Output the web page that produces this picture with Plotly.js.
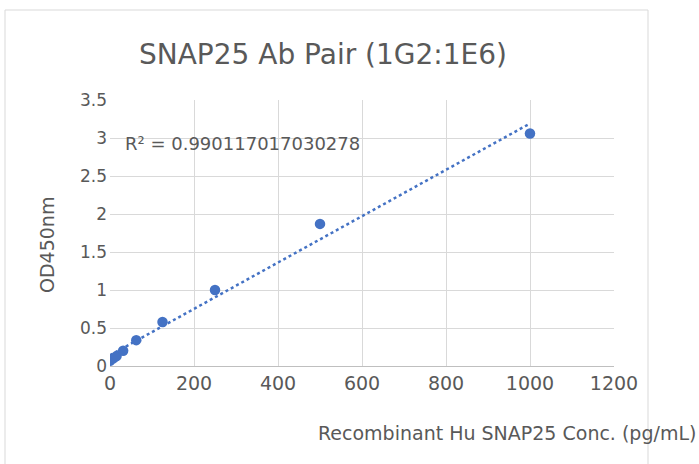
<!DOCTYPE html>
<html><head><meta charset="utf-8">
<script src="https://cdn.plot.ly/plotly-3.0.1.min.js"></script>
<style>html,body{margin:0;padding:0;background:#fff;}#chart{width:699px;height:464px;}</style>
</head><body><div id="chart"></div>
<script>
const concentrations = [0, 7.8125, 15.625, 31.25, 62.5, 125, 250, 500, 1000];
const od450 = [0.07, 0.10, 0.13, 0.20, 0.34, 0.58, 1.00, 1.87, 3.06];
const chartTitle = "SNAP25 Ab Pair (1G2:1E6)";
const xTitle = "Recombinant Hu SNAP25 Conc. (pg/mL)";
const yTitle = "OD450nm";
const r2Label = "R² = 0.990117017030278";
const xTicks = [0, 200, 400, 600, 800, 1000, 1200];
const yTicks = [0, 0.5, 1, 1.5, 2, 2.5, 3, 3.5];
const yTickText = ["0", "0.5", "1", "1.5", "2", "2.5", "3", "3.5"];

// linear least-squares trendline computed from the data
const n = concentrations.length;
const mx = concentrations.reduce((a,b)=>a+b,0)/n;
const my = od450.reduce((a,b)=>a+b,0)/n;
let sxy=0, sxx=0;
for(let i=0;i<n;i++){sxy+=(concentrations[i]-mx)*(od450[i]-my);sxx+=(concentrations[i]-mx)**2;}
const slope = sxy/sxx, intercept = my - slope*mx;
const trendX = [Math.min(...concentrations), Math.max(...concentrations)];
const trendY = trendX.map(x=>intercept+slope*x);

const blue = "#4472C4";
const txt = "#595959";
const font = "DejaVu Sans, sans-serif";
const W=699, H=464, L=110, R=85, T=100, B=98;
const pw=W-L-R, ph=H-T-B;
const px = v => (v-L)/pw, py = v => (H-B-v)/ph;

Plotly.newPlot("chart", [
  {x: trendX, y: trendY, mode: "lines", line: {color: blue, width: 2.5, dash: "dot"}, hoverinfo: "skip", showlegend: false},
  {x: concentrations, y: od450, mode: "markers", marker: {color: blue, size: 10.5}, showlegend: false}
], {
  width: W, height: H,
  margin: {l: L, r: R, t: T, b: B},
  paper_bgcolor: "#fff", plot_bgcolor: "#fff",
  font: {family: font, color: txt, size: 17},
  xaxis: {range: [0, 1200], tickvals: xTicks, ticktext: xTicks.map(String), showgrid: true, gridcolor: "#d9d9d9", gridwidth: 1,
    zeroline: false, showline: true, linecolor: "#bfbfbf", linewidth: 1, ticks: "", tickfont: {size: 19, color: txt}, fixedrange: true},
  yaxis: {range: [0, 3.5], tickvals: yTicks, ticktext: yTickText, showgrid: true, gridcolor: "#d9d9d9", gridwidth: 1,
    zeroline: false, showline: false, ticks: "", tickfont: {size: 17, color: txt}, ticklabelstandoff: 2, fixedrange: true},
  shapes: [
    {type: "rect", xref: "paper", yref: "paper", x0: px(5), x1: px(648), y0: py(480), y1: py(10), line: {color: "#d9d9d9", width: 1}, layer: "below"}
  ],
  annotations: [
    {text: chartTitle, xref: "paper", yref: "paper", x: px(323), y: py(54), showarrow: false, xanchor: "center", yanchor: "middle", font: {size: 28, color: txt}},
    {text: xTitle, xref: "paper", yref: "paper", x: px(507), y: py(433), showarrow: false, xanchor: "center", yanchor: "middle", font: {size: 19, color: txt}},
    {text: yTitle, xref: "paper", yref: "paper", x: px(47), y: py(245), showarrow: false, textangle: -90, xanchor: "center", yanchor: "middle", font: {size: 19, color: txt}},
    {text: r2Label, xref: "x", yref: "y", x: 30, y: 2.93, showarrow: false, xanchor: "left", yanchor: "middle", font: {size: 18, color: txt}}
  ]
}, {displayModeBar: false, staticPlot: true});
</script></body></html>
